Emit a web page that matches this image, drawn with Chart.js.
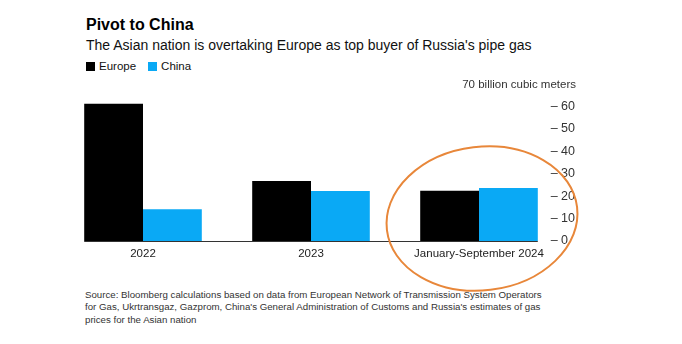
<!DOCTYPE html>
<html>
<head>
<meta charset="utf-8">
<script src="https://cdn.jsdelivr.net/npm/chart.js@4"></script>
<style>
  body { margin: 0; background: #fff; font-family: "Liberation Sans", Arial, sans-serif; }
  #wrap { position: relative; width: 682px; height: 344px; overflow: hidden; }
  .txt { position: absolute; left: 86px; white-space: nowrap; }
  #title { top: 15px; font-weight: bold; font-size: 16px; line-height: 20px; color: #000; }
  #subtitle { top: 36px; font-size: 14px; line-height: 18px; color: #111; }
  #legend { top: 59px; font-size: 11.5px; line-height: 14px; color: #111; }
  #legend span.box { display: inline-block; width: 9px; height: 9px; margin-right: 4px; vertical-align: -1px; }
  #legend span.item { margin-right: 12px; }
  #source { top: 289px; left: 85px; font-size: 9.7px; line-height: 12.3px; color: #333; }
  #myChart { position: absolute; left: 0; top: 0; }
</style>
</head>
<body>
<div id="wrap">
  <div class="txt" id="title">Pivot to China</div>
  <div class="txt" id="subtitle">The Asian nation is overtaking Europe as top buyer of Russia's pipe gas</div>
  <div class="txt" id="legend"></div>
  <div class="txt" id="source">Source: Bloomberg calculations based on data from European Network of Transmission System Operators<br>for Gas, Ukrtransgaz, Gazprom, China's General Administration of Customs and Russia's estimates of gas<br>prices for the Asian nation</div>
  <canvas id="myChart" width="682" height="344"></canvas>
</div>
<script>
const CHART = document.getElementById("myChart");

// data (billion cubic meters)
const periods = ['2022', '2023', 'January-September 2024'];
const europe = [61.2, 26.8, 22.4];
const china = [14.2, 22.3, 23.6];
const seriesNames = ['Europe', 'China'];
const seriesColors = ['#000000', '#0AA9F5'];
const yTicks = [0, 10, 20, 30, 40, 50, 60, 70];
const unitLabel = '70 billion cubic meters';

// legend built from the series names
let legendHtml = '';
for (let i = 0; i < seriesNames.length; i++) {
  legendHtml += '<span class="item"><span class="box" style="background:' + seriesColors[i] + '"></span>' + seriesNames[i] + '</span>';
}
document.getElementById('legend').innerHTML = legendHtml;

// baseline under the bars, unit label at top, highlight ring on last period
const extras = {
  id: 'extras',
  afterDatasetsDraw(chart) {
    const ctx = chart.ctx;
    const x = chart.scales.x, y = chart.scales.y;
    const first = chart.getDatasetMeta(0).data[0];
    const last = chart.getDatasetMeta(1).data[periods.length - 1];
    const y0 = Math.round(y.getPixelForValue(0)) + 0.5;
    ctx.save();
    ctx.strokeStyle = '#333';
    ctx.lineWidth = 1;
    ctx.beginPath();
    ctx.moveTo(first.x - first.width / 2, y0);
    ctx.lineTo(last.x + last.width / 2, y0);
    ctx.stroke();

    ctx.fillStyle = '#333';
    ctx.font = '11.5px "Liberation Sans", Arial, sans-serif';
    ctx.textAlign = 'right';
    ctx.textBaseline = 'middle';
    ctx.fillText(unitLabel, y.right, y.getPixelForValue(yTicks[yTicks.length - 1]) + 1);

    // hand-drawn style highlight around the latest period
    const catW = (x.right - x.left) / periods.length;
    const cx = x.getPixelForValue(periods.length - 1) + 3;
    const cy = y.getPixelForValue(10);
    ctx.strokeStyle = '#E8873A';
    ctx.lineWidth = 2;
    ctx.beginPath();
    ctx.ellipse(cx, cy, catW * 0.57, (y.getPixelForValue(0) - y.getPixelForValue(32)), -0.12, 0, Math.PI * 2);
    ctx.stroke();
    ctx.restore();
  }
};

let barchart = new Chart(CHART, {
  type: 'bar',
  data: {
    labels: periods,
    datasets: [
      {
        label: seriesNames[0],
        data: europe,
        backgroundColor: seriesColors[0],
        borderWidth: 0,
        categoryPercentage: 0.7,
        barPercentage: 1.0
      },
      {
        label: seriesNames[1],
        data: china,
        backgroundColor: seriesColors[1],
        borderWidth: 0,
        categoryPercentage: 0.7,
        barPercentage: 1.0
      }
    ]
  },
  options: {
    responsive: false,
    animation: false,
    layout: { padding: { left: 59, right: 106, top: 84, bottom: 73 } },
    plugins: {
      legend: { display: false },
      tooltip: { enabled: false }
    },
    scales: {
      x: {
        offset: true,
        grid: { display: false, drawTicks: false },
        border: { display: false },
        ticks: {
          color: '#222',
          padding: 6,
          maxRotation: 0,
          autoSkip: false,
          font: { family: '"Liberation Sans", Arial, sans-serif', size: 11.5 }
        },
        afterFit: function(scale) { scale.width = scale.width; scale.height = 30; }
      },
      y: {
        position: 'right',
        min: yTicks[0],
        max: yTicks[yTicks.length - 1],
        afterBuildTicks: function(scale) {
          scale.ticks = yTicks.map(v => ({ value: v }));
        },
        grid: { display: false, drawTicks: false },
        border: { display: false },
        ticks: {
          color: '#333',
          mirror: true,
          padding: 12,
          font: { family: '"Liberation Sans", Arial, sans-serif', size: 12.5 },
          callback: function(value) {
            if (value === yTicks[yTicks.length - 1]) return '';
            // figure space keeps the dashes lined up for one-digit values
            return '\u2013 ' + value + (value < 10 ? '\u2007' : '');
          }
        },
        afterFit: function(scale) { scale.width = 13; }
      }
    }
  },
  plugins: [extras]
});
</script>
</body>
</html>
